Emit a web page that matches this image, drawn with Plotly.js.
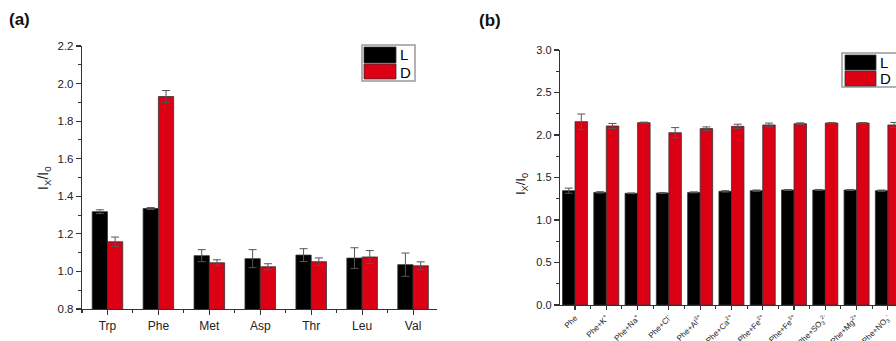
<!DOCTYPE html>
<html>
<head>
<meta charset="utf-8">
<script src="https://cdn.plot.ly/plotly-3.0.1.min.js"></script>
<style>html,body{margin:0;padding:0;background:#fff;}#chart{width:896px;height:341px;}</style>
</head>
<body>
<div id="chart"></div>
<script>
// ---- Panel (a) data ----
const catsA = ["Trp", "Phe", "Met", "Asp", "Thr", "Leu", "Val"];
const aL = [1.318, 1.335, 1.084, 1.068, 1.087, 1.071, 1.036];
const aLerr = [0.010, 0.005, 0.032, 0.048, 0.034, 0.055, 0.062];
const aD = [1.158, 1.931, 1.046, 1.025, 1.052, 1.077, 1.030];
const aDerr = [0.025, 0.032, 0.016, 0.016, 0.020, 0.034, 0.021];

// ---- Panel (b) data ----
const catsB = ["Phe", "Phe+K<sup>+</sup>", "Phe+Na<sup>+</sup>", "Phe+Cl<sup>-</sup>", "Phe+Al<sup>3+</sup>",
  "Phe+Ca<sup>2+</sup>", "Phe+Fe<sup>2+</sup>", "Phe+Fe<sup>3+</sup>", "Phe+SO<sub>3</sub><sup>2-</sup>",
  "Phe+Mg<sup>2+</sup>", "Phe+NO<sub>3</sub><sup>-</sup>"];
const bL = [1.345, 1.325, 1.314, 1.318, 1.325, 1.337, 1.345, 1.353, 1.353, 1.353, 1.345];
const bLerr = [0.030, 0.008, 0.004, 0.006, 0.006, 0.008, 0.008, 0.006, 0.006, 0.006, 0.008];
const bD = [2.157, 2.106, 2.145, 2.027, 2.075, 2.102, 2.118, 2.133, 2.141, 2.141, 2.118];
const bDerr = [0.090, 0.030, 0.006, 0.060, 0.020, 0.025, 0.022, 0.010, 0.005, 0.006, 0.030];

const seriesNames = ["L", "D"];
const yTitle = "I<sub>X</sub>/I<sub>0</sub>";
const colL = "#000000", colD = "#dc0014";

const idxA = catsA.map((_, i) => i);
const idxB = catsB.map((_, i) => i);

function barTrace(x, y, err, color, name, xa, ya, w, off) {
  return {
    type: "bar", x: x, y: y, name: name, xaxis: xa, yaxis: ya,
    width: w, offset: off,
    marker: {color: color, line: {color: "#333", width: 0.8}},
    error_y: {type: "data", array: err, visible: true, color: "#555", thickness: 1, width: 4},
    showlegend: false, hoverinfo: "x+y"
  };
}

const wA = 0.3, wB = 0.4;
const data = [
  barTrace(idxA, aL, aLerr, colL, seriesNames[0], "x", "y", wA, -wA),
  barTrace(idxA, aD, aDerr, colD, seriesNames[1], "x", "y", wA, 0),
  barTrace(idxB, bL, bLerr, colL, seriesNames[0], "x2", "y2", wB, -wB),
  barTrace(idxB, bD, bDerr, colD, seriesNames[1], "x2", "y2", wB, 0)
];

const W = 896, H = 341;
const px = v => v / W;
const py = v => 1 - v / H;

const FONT = "Liberation Sans, Arial, sans-serif";
const tickFont = {family: FONT, size: 11.5, color: "#222"};
const axCommon = {
  showline: true, linecolor: "#333", linewidth: 1.2, ticks: "outside", ticklen: 5,
  tickwidth: 1.1, tickcolor: "#333", showgrid: false, zeroline: false, mirror: false,
  tickfont: tickFont, automargin: false, fixedrange: true
};

const layout = {
  width: W, height: H,
  margin: {l: 0, r: 0, t: 0, b: 0},
  paper_bgcolor: "#fff", plot_bgcolor: "#fff",
  barmode: "overlay",
  font: {family: FONT, color: "#222"},
  xaxis: Object.assign({}, axCommon, {
    domain: [px(82), px(437)], range: [-0.5, 6.47],
    tickvals: idxA, ticktext: catsA, tickfont: Object.assign({}, tickFont, {size: 12}),
    minor: {tick0: 0.5, dtick: 1, ticks: "outside", ticklen: 3, tickcolor: "#333"},
    anchor: "y"
  }),
  yaxis: Object.assign({}, axCommon, {
    domain: [py(309), py(46)], range: [0.8, 2.2], dtick: 0.2, tickformat: ".1f",
    minor: {dtick: 0.1, ticks: "outside", ticklen: 3, tickcolor: "#333"},
    anchor: "x"
  }),
  xaxis2: Object.assign({}, axCommon, {
    domain: [px(560), 1], range: [-0.48, 10.26],
    tickvals: idxB, ticktext: catsB, tickangle: -45, ticklen: 4,
    tickfont: Object.assign({}, tickFont, {size: 8}),
    minor: {tick0: 0.5, dtick: 1, ticks: "outside", ticklen: 3, tickcolor: "#333"},
    anchor: "y2"
  }),
  yaxis2: Object.assign({}, axCommon, {
    domain: [py(305), py(50)], range: [0, 3], dtick: 0.5, tickformat: ".1f",
    tickfont: Object.assign({}, tickFont, {size: 11}),
    minor: {dtick: 0.25, ticks: "outside", ticklen: 3, tickcolor: "#333"},
    anchor: "x2"
  }),
  shapes: [
    // legend (a)
    {type: "rect", xref: "paper", yref: "paper", x0: px(362), x1: px(415), y0: py(81), y1: py(45), line: {color: "#999", width: 1.5}, fillcolor: "#fff", layer: "above"},
    {type: "rect", xref: "paper", yref: "paper", x0: px(364), x1: px(396), y0: py(63), y1: py(47), line: {color: "#333", width: 0.8}, fillcolor: colL, layer: "above"},
    {type: "rect", xref: "paper", yref: "paper", x0: px(364), x1: px(396), y0: py(79), y1: py(64), line: {color: "#333", width: 0.8}, fillcolor: colD, layer: "above"},
    // legend (b)
    {type: "rect", xref: "paper", yref: "paper", x0: px(842), x1: px(905), y0: py(87), y1: py(53), line: {color: "#999", width: 1.5}, fillcolor: "#fff", layer: "above"},
    {type: "rect", xref: "paper", yref: "paper", x0: px(845), x1: px(876), y0: py(70), y1: py(55), line: {color: "#333", width: 0.8}, fillcolor: colL, layer: "above"},
    {type: "rect", xref: "paper", yref: "paper", x0: px(845), x1: px(876), y0: py(86), y1: py(71), line: {color: "#333", width: 0.8}, fillcolor: colD, layer: "above"}
  ],
  annotations: [
    {text: "<b>(a)</b>", xref: "paper", yref: "paper", x: px(7), y: py(20), xanchor: "left", yanchor: "middle", showarrow: false, font: {size: 17, color: "#111"}},
    {text: "<b>(b)</b>", xref: "paper", yref: "paper", x: px(477), y: py(21), xanchor: "left", yanchor: "middle", showarrow: false, font: {size: 17, color: "#111"}},
    {text: yTitle, xref: "paper", yref: "paper", x: px(44), y: py(178), xanchor: "center", yanchor: "middle", textangle: -90, showarrow: false, font: {size: 14, color: "#222"}},
    {text: yTitle, xref: "paper", yref: "paper", x: px(521), y: py(184), xanchor: "center", yanchor: "middle", textangle: -90, showarrow: false, font: {size: 13, color: "#222"}},
    {text: seriesNames[0], xref: "paper", yref: "paper", x: px(398), y: py(55), xanchor: "left", yanchor: "middle", showarrow: false, font: {size: 15, color: "#000"}},
    {text: seriesNames[1], xref: "paper", yref: "paper", x: px(398), y: py(72), xanchor: "left", yanchor: "middle", showarrow: false, font: {size: 15, color: "#000"}},
    {text: seriesNames[0], xref: "paper", yref: "paper", x: px(878), y: py(62), xanchor: "left", yanchor: "middle", showarrow: false, font: {size: 15, color: "#000"}},
    {text: seriesNames[1], xref: "paper", yref: "paper", x: px(878), y: py(78), xanchor: "left", yanchor: "middle", showarrow: false, font: {size: 15, color: "#000"}}
  ]
};

Plotly.newPlot("chart", data, layout, {displayModeBar: false, staticPlot: true});
</script>
</body>
</html>
